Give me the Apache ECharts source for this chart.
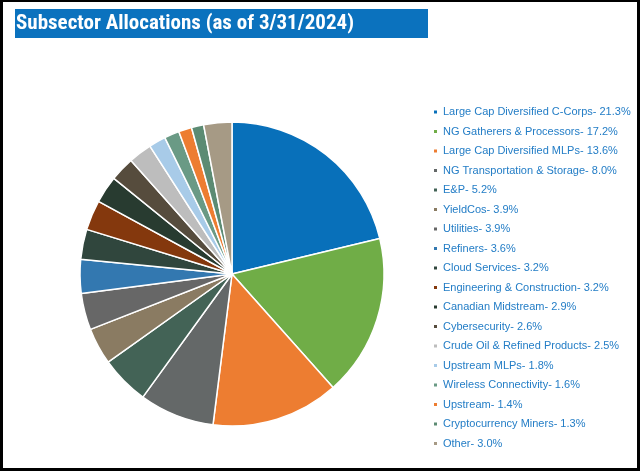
<!DOCTYPE html>
<html>
<head>
<meta charset="utf-8">
<script src="https://cdn.jsdelivr.net/npm/echarts@6/dist/echarts.min.js"></script>
<style>
html,body{margin:0;padding:0;background:#fff;}
#wrap{position:relative;width:640px;height:471px;overflow:hidden;}
#chart{position:absolute;left:0;top:0;width:640px;height:471px;}
#frame{position:absolute;left:0;top:0;width:640px;height:471px;box-sizing:border-box;border-style:solid;border-color:#000;border-width:2px 3px 3px 3px;pointer-events:none;}
</style>
</head>
<body>
<div id="wrap"><div id="chart"></div><div id="frame"></div></div>
<script>
const titleText = 'Subsector Allocations (as of 3/31/2024)';
const categories = [
  'Large Cap Diversified C-Corps', 'NG Gatherers & Processors', 'Large Cap Diversified MLPs',
  'NG Transportation & Storage', 'E&P', 'YieldCos', 'Utilities', 'Refiners', 'Cloud Services',
  'Engineering & Construction', 'Canadian Midstream', 'Cybersecurity', 'Crude Oil & Refined Products',
  'Upstream MLPs', 'Wireless Connectivity', 'Upstream', 'Cryptocurrency Miners', 'Other'
];
const values = [21.3, 17.2, 13.6, 8.0, 5.2, 3.9, 3.9, 3.6, 3.2, 3.2, 2.9, 2.6, 2.5, 1.8, 1.6, 1.4, 1.3, 3.0];
const colors = [
  '#0870BA', '#70AD47', '#ED7D31', '#646868', '#436356', '#8A7B62', '#676767', '#3378B0', '#30463D',
  '#84380D', '#283B30', '#564C3D', '#BDBDBD', '#A8CBE8', '#6A9A85', '#ED7D31', '#5C8B73', '#A69A85'
];

const data = categories.map((c, i) => ({ name: c, value: values[i], itemStyle: { color: colors[i] } }));

const chart = echarts.init(document.getElementById('chart'), null, { renderer: 'canvas' });
chart.setOption({
  backgroundColor: '#fff',
  animation: false,
  graphic: [{
    type: 'rect', left: 15, top: 9, z: 0,
    shape: { width: 413, height: 29 },
    style: { fill: '#0B72BE' }
  }],
  title: {
    text: titleText,
    left: 16, top: 10, padding: 0,
    textStyle: { color: '#fff', fontSize: 21, fontWeight: 'bold', fontFamily: '"Roboto Condensed", Roboto, sans-serif', lineHeight: 27 }
  },
  legend: {
    orient: 'vertical',
    left: 432, top: 105, padding: 0,
    icon: 'rect', itemWidth: 5, itemHeight: 5,
    itemGap: 5.5,
    selectedMode: false,
    formatter: name => name + '- ' + values[categories.indexOf(name)].toFixed(1) + '%',
    textStyle: { color: '#237DC6', fontSize: 11, lineHeight: 14, fontFamily: '"Liberation Sans", Arial, sans-serif' }
  },
  series: [{
    type: 'pie',
    center: [232, 274],
    radius: [0, 152],
    startAngle: 90,
    clockwise: true,
    label: { show: false },
    labelLine: { show: false },
    emphasis: { disabled: true },
    itemStyle: { borderColor: '#fff', borderWidth: 1.5 },
    data: data
  }]
});
</script>
</body>
</html>
